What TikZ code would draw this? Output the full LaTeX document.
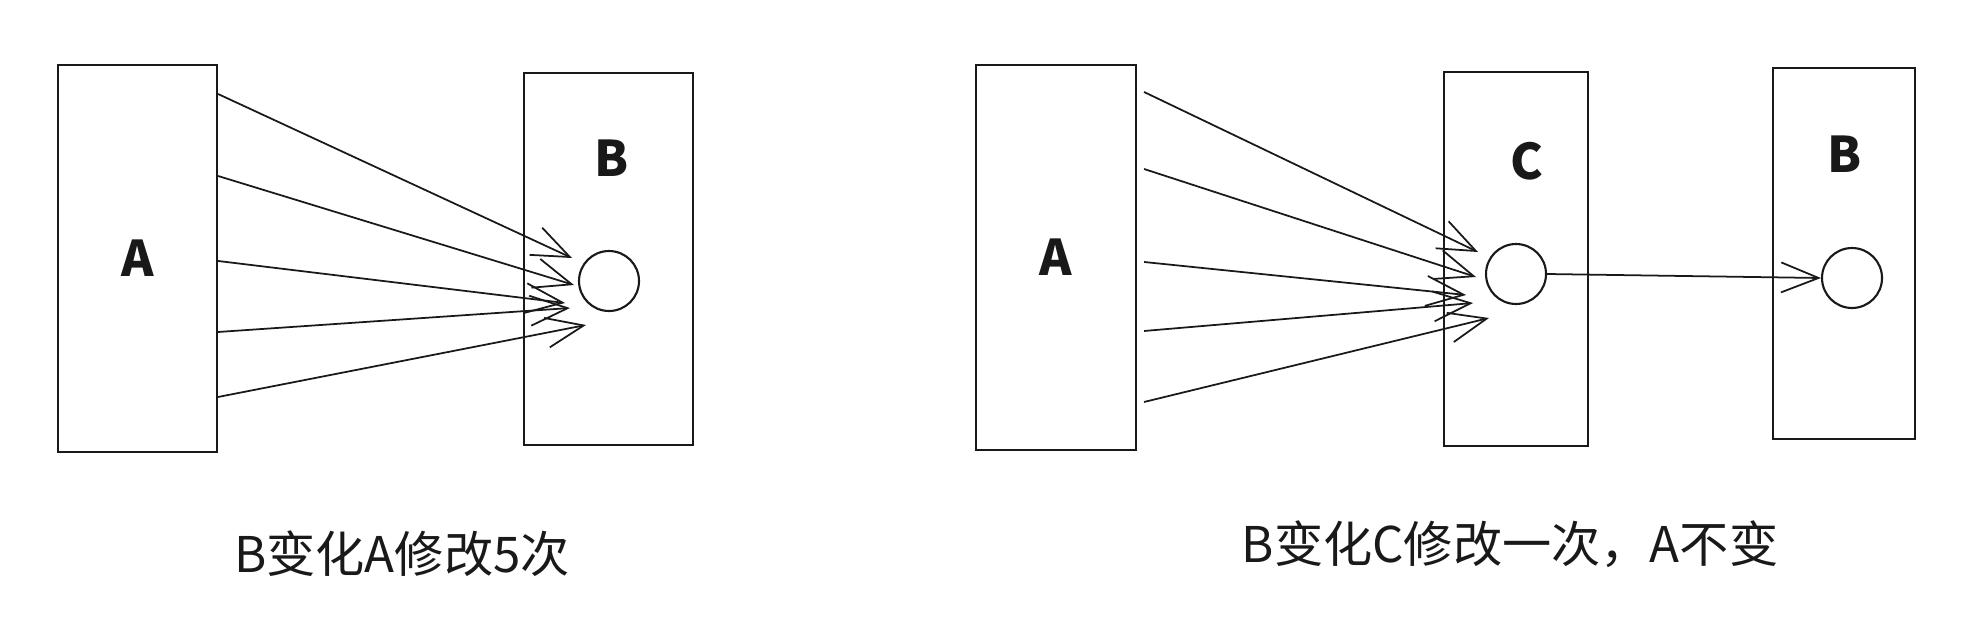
\documentclass[tikz,border=0pt]{standalone}
\usepackage{fontspec}
\usepackage{tikz}
\usetikzlibrary{arrows.meta, positioning, calc}
\newfontfamily\cjk{Noto Sans CJK SC}
\colorlet{ink}{black!90}
\tikzset{
  panel/.style={draw=ink, line width=1.2pt, fill=white, inner sep=0pt},
  dot/.style={draw=ink, circle, line width=1.2pt, minimum size=1.2cm, inner sep=0pt},
  tag/.style={font=\cjk\fontsize{28}{30}\selectfont, text=ink, inner sep=0pt},
  letter/.style={font=\cjk\bfseries\fontsize{28}{30}\selectfont, text=ink, inner sep=0pt},
  link/.style={draw=ink, line width=1pt, -{Straight Barb[length=0.75cm, width=0.6cm]}}
}

\begin{document}
\begin{tikzpicture}[x=0.02cm, y=-0.02cm]
    \useasboundingbox (0,0) rectangle (1966,632);

    % B changes: A is edited five times
    \node[panel, letter, minimum width=3.18cm, minimum height=7.74cm] (a1) at (137.5,258.5) {A};
    \node[panel, minimum width=3.38cm, minimum height=7.44cm] (b1) at (608.5,259) {};
    \node[letter] (b1name) at (612,158) {B};
    \node[dot] (b1dot) at (609,281) {};
    \foreach \ys/\dx/\dy in {30/-37/-23, 112/-35/4, 197/-44/22, 268/-39/27, 333/-23/44}
      \draw[link] ($(a1.north east)+(0,\ys)$) -- ($(b1dot)+(\dx,\dy)$);
    \node[tag] (cap1) at (402,554) {B变化A修改5次};

    % B changes: only C is edited
    \node[panel, letter, minimum width=3.2cm, minimum height=7.7cm] (a2) at (1056,257.5) {A};
    \node[panel, minimum width=2.88cm, minimum height=7.48cm] (c) at (1516,259) {};
    \node[letter] (cname) at (1527,161) {C};
    \node[dot] (cdot) at (1516,274) {};
    \node[panel, minimum width=2.84cm, minimum height=7.42cm] (b2) at (1844,253.5) {};
    \node[letter] (b2name) at (1845,154) {B};
    \node[dot] (b2dot) at (1852,278) {};
    \foreach \ys/\dx/\dy in {28/-38/-22, 105/-40/3, 198/-50/21, 267/-43/29, 338/-27/44}
      \draw[link] ($(a2.north east)+(7,\ys)$) -- ($(cdot)+(\dx,\dy)$);
    \draw[link] (cdot.east) -- (b2dot.west);
    \node[tag] (cap2) at (1510,544) {B变化C修改一次，A不变};
  \end{tikzpicture}
\end{document}
